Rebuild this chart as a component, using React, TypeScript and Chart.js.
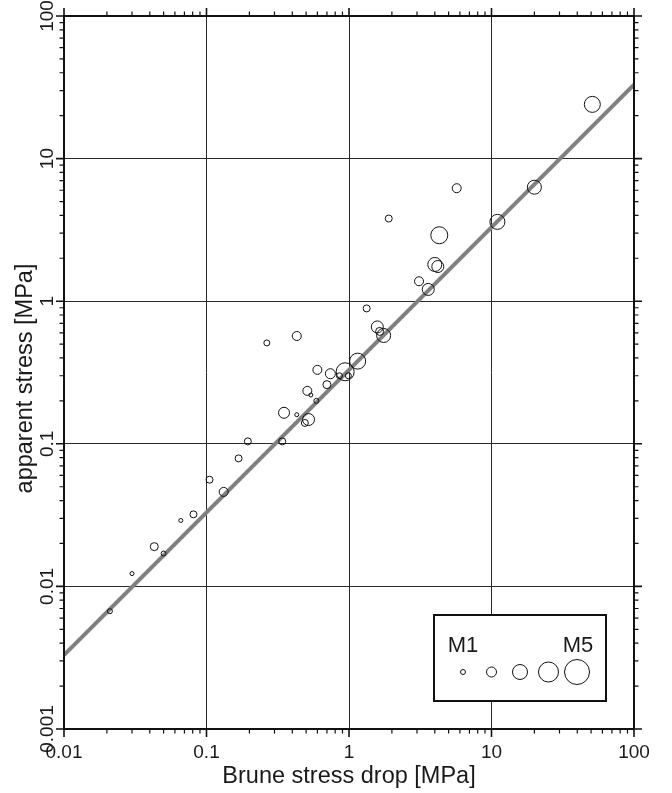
import { useEffect, useRef } from "react";
import { Chart, registerables } from "chart.js";

Chart.register(...registerables);

// Event catalogue: Brune stress drop vs. apparent stress (MPa), with magnitude
const stressDrop = [
  51, 20, 5.7, 1.9, 11, 4.3, 4.0, 4.2, 3.1, 3.6,
  1.33, 1.58, 1.64, 1.75, 0.265, 0.43, 0.6, 1.15, 0.94, 0.74,
  0.857, 0.99, 0.7, 0.51, 0.54, 0.59, 0.35, 0.43, 0.52, 0.49,
  0.195, 0.34, 0.168, 0.105, 0.132, 0.081, 0.066, 0.043, 0.05, 0.03,
  0.021,
];
const apparentStress = [
  24, 6.3, 6.2, 3.8, 3.6, 2.9, 1.81, 1.75, 1.38, 1.21,
  0.89, 0.66, 0.614, 0.575, 0.51, 0.57, 0.33, 0.38, 0.32, 0.31,
  0.3, 0.3, 0.26, 0.235, 0.22, 0.2, 0.165, 0.16, 0.148, 0.14,
  0.104, 0.104, 0.079, 0.056, 0.046, 0.032, 0.029, 0.019, 0.017, 0.0123,
  0.0067,
];
const magnitude = [
  3.2, 2.8, 1.8, 1.4, 3.0, 3.4, 2.8, 2.4, 1.8, 2.4,
  1.4, 2.4, 1.6, 2.8, 1.2, 1.8, 1.8, 3.2, 3.6, 2.0,
  1.2, 1.2, 1.6, 1.8, 0.8, 1.0, 2.2, 0.8, 2.4, 1.4,
  1.4, 1.4, 1.4, 1.4, 1.8, 1.4, 0.8, 1.6, 1.0, 0.8,
  1.0,
];

// Fitted relation, drawn across the full stress-drop range
const fitStressDrop = [0.01, 100];
const fitApparentStress = [0.0033, 33];

const xTickValues = [0.01, 0.1, 1, 10, 100];
const xTickLabels = ["0.01", "0.1", "1", "10", "100"];
const yTickValues = [0.001, 0.01, 0.1, 1, 10, 100];
const yTickLabels = ["0.001", "0.01", "0.1", "1", "10", "100"];

const legendMagnitudes = [1, 2, 3, 4, 5];
const legendLabels = ["M1", "M5"];

const xTitle = "Brune stress drop [MPa]";
const yTitle = "apparent stress [MPa]";

const FONT = "'Liberation Sans', Arial, Helvetica, sans-serif";
const radiusFor = (m: number) => 2.5 * m;

function minorValues(lo: number, hi: number): number[] {
  const out: number[] = [];
  const e0 = Math.round(Math.log10(lo));
  const e1 = Math.round(Math.log10(hi));
  for (let e = e0; e < e1; e++) {
    for (let m = 2; m <= 9; m++) out.push(m * Math.pow(10, e));
  }
  return out;
}

// Frame, outward ticks on all sides, tick labels, axis titles and size legend
const framePlugin = {
  id: "gmtFrame",
  afterDraw(chart: any) {
    const { ctx, chartArea: a, scales } = chart;
    const xs = scales.x;
    const ys = scales.y;
    const MAJOR = 8;
    const MINOR = 4.5;
    ctx.save();

    // tick marks
    ctx.strokeStyle = "#111";
    ctx.lineWidth = 1.2;
    const tickX = (v: number, len: number) => {
      const px = xs.getPixelForValue(v);
      ctx.beginPath();
      ctx.moveTo(px, a.bottom);
      ctx.lineTo(px, a.bottom + len);
      ctx.moveTo(px, a.top);
      ctx.lineTo(px, a.top - len);
      ctx.stroke();
    };
    const tickY = (v: number, len: number) => {
      const py = ys.getPixelForValue(v);
      ctx.beginPath();
      ctx.moveTo(a.left, py);
      ctx.lineTo(a.left - len, py);
      ctx.moveTo(a.right, py);
      ctx.lineTo(a.right + len, py);
      ctx.stroke();
    };
    minorValues(0.01, 100).forEach((v) => tickX(v, MINOR));
    minorValues(0.001, 100).forEach((v) => tickY(v, MINOR));
    ctx.lineWidth = 1.6;
    xTickValues.forEach((v) => tickX(v, MAJOR));
    yTickValues.forEach((v) => tickY(v, MAJOR));

    // frame
    ctx.lineWidth = 2;
    ctx.strokeRect(a.left, a.top, a.right - a.left, a.bottom - a.top);

    // tick labels
    ctx.fillStyle = "#1a1a1a";
    ctx.font = `19px ${FONT}`;
    ctx.textAlign = "center";
    ctx.textBaseline = "alphabetic";
    xTickValues.forEach((v, i) => {
      ctx.fillText(xTickLabels[i], xs.getPixelForValue(v), a.bottom + 29);
    });
    yTickValues.forEach((v, i) => {
      ctx.save();
      ctx.translate(a.left - 11, ys.getPixelForValue(v));
      ctx.rotate(-Math.PI / 2);
      ctx.fillText(yTickLabels[i], 0, 0);
      ctx.restore();
    });

    // axis titles
    ctx.font = `23.5px ${FONT}`;
    ctx.fillText(xTitle, (a.left + a.right) / 2, a.bottom + 54);
    ctx.save();
    ctx.translate(a.left - 32, (a.top + a.bottom) / 2 + 6);
    ctx.rotate(-Math.PI / 2);
    ctx.fillText(yTitle, 0, 0);
    ctx.restore();

    // magnitude legend
    const bw = 172;
    const bh = 86;
    const bx = a.right - 28 - bw;
    const by = a.bottom - 28 - bh;
    ctx.fillStyle = "#fff";
    ctx.fillRect(bx, by, bw, bh);
    ctx.strokeStyle = "#111";
    ctx.lineWidth = 2;
    ctx.strokeRect(bx, by, bw, bh);
    const step = 28.5;
    const cx0 = bx + 29;
    const cy = by + 57;
    ctx.lineWidth = 1;
    legendMagnitudes.forEach((m, i) => {
      ctx.beginPath();
      ctx.arc(cx0 + i * step, cy, radiusFor(m), 0, Math.PI * 2);
      ctx.stroke();
    });
    ctx.fillStyle = "#1a1a1a";
    ctx.font = `22px ${FONT}`;
    ctx.textAlign = "center";
    ctx.fillText(legendLabels[0], cx0, by + 37);
    ctx.fillText(legendLabels[1], cx0 + 4 * step + 1, by + 37);

    ctx.restore();
  },
};

export default function App() {
  const canvasRef = useRef<HTMLCanvasElement | null>(null);

  useEffect(() => {
    const canvas = canvasRef.current;
    if (!canvas) return;
    const points = stressDrop.map((x, i) => ({ x, y: apparentStress[i] }));
    const fit = fitStressDrop.map((x, i) => ({ x, y: fitApparentStress[i] }));

    const chart = new Chart(canvas, {
      type: "scatter",
      data: {
        datasets: [
          {
            label: "events",
            data: points,
            order: 0,
            pointRadius: (c: any) => radiusFor(magnitude[c.dataIndex] ?? 1),
            pointHoverRadius: (c: any) => radiusFor(magnitude[c.dataIndex] ?? 1),
            pointBorderWidth: 1,
            borderColor: "#111",
            backgroundColor: "rgba(0,0,0,0)",
            showLine: false,
          },
          {
            label: "fit",
            type: "line",
            data: fit,
            order: 1,
            borderColor: "#808080",
            borderWidth: 4,
            pointRadius: 0,
            fill: false,
          } as any,
        ],
      },
      options: {
        animation: false,
        responsive: false,
        devicePixelRatio: 1,
        layout: { padding: { left: 64, right: 38, top: 16, bottom: 64 } },
        plugins: {
          legend: { display: false },
          tooltip: { enabled: false },
          title: { display: false },
        },
        scales: {
          x: {
            type: "logarithmic",
            min: 0.01,
            max: 100,
            afterBuildTicks: (s: any) => {
              s.ticks = xTickValues.map((v) => ({ value: v }));
            },
            ticks: { display: false },
            grid: { color: "#2a2a2a", lineWidth: 1, drawTicks: false },
            border: { display: false },
          },
          y: {
            type: "logarithmic",
            min: 0.001,
            max: 100,
            afterBuildTicks: (s: any) => {
              s.ticks = yTickValues.map((v) => ({ value: v }));
            },
            ticks: { display: false },
            grid: { color: "#2a2a2a", lineWidth: 1, drawTicks: false },
            border: { display: false },
          },
        },
      },
      plugins: [framePlugin],
    });
    return () => chart.destroy();
  }, []);

  return (
    <div style={{ position: "absolute", left: 0, top: 0, width: 672, height: 793, background: "#fff" }}>
      <canvas ref={canvasRef} width={672} height={793} />
    </div>
  );
}
